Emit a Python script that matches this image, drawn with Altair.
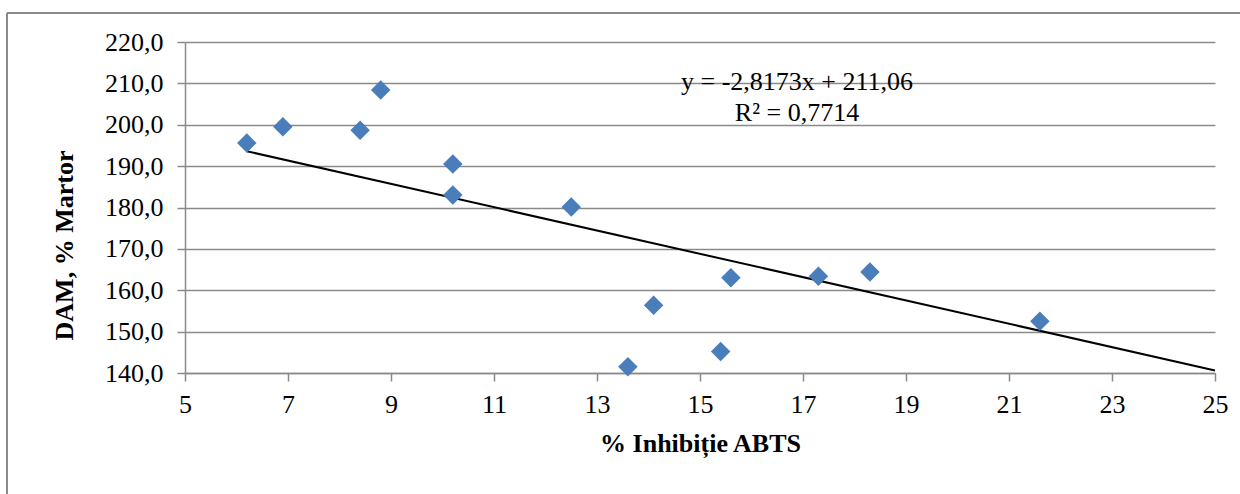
import altair as alt
import pandas as pd

# Data
inhibitie_abts = [6.2, 6.9, 8.4, 8.8, 10.2, 10.2, 12.5, 14.1, 13.6, 15.4, 15.6, 17.3, 18.3, 21.6]
dam_martor = [195.6, 199.5, 198.7, 208.4, 190.5, 183.0, 180.1, 156.4, 141.5, 145.2, 163.0, 163.4, 164.4, 152.5]

slope = -2.8173
intercept = 211.06
trend_end_x = 25
eq_text = "y = -2,8173x + 211,06"
r2_text = "R² = 0,7714"

x_ticks = [5, 7, 9, 11, 13, 15, 17, 19, 21, 23, 25]
y_ticks = [140, 150, 160, 170, 180, 190, 200, 210, 220]

FONT = "'Liberation Serif', 'Times New Roman', Times, serif"
FS = 26
GRID = "#8a8a8a"
BLUE = "#4A7EBB"

W, H = 1030, 331

points_df = pd.DataFrame({"x": inhibitie_abts, "y": dam_martor})
trend_df = pd.DataFrame({"x": [min(inhibitie_abts), trend_end_x]})

xscale = alt.Scale(domain=[5, 25], nice=False, zero=False)
yscale = alt.Scale(domain=[140, 220], nice=False, zero=False)

xaxis = alt.Axis(
    values=x_ticks, title="% Inhibiție ABTS", grid=False,
    tickSize=8, tickColor=GRID, tickWidth=1.5, domainColor=GRID, domainWidth=1.5,
    labelFont=FONT, labelFontSize=FS, labelColor="black", labelPadding=10,
    titleFont=FONT, titleFontSize=FS, titleFontWeight="bold", titleColor="black",
    titleX=W / 2, titleY=70, titleBaseline="middle", titleAlign="center",
    labelFlush=False, labelOverlap=False,
)
yaxis = alt.Axis(
    values=y_ticks, title="DAM, % Martor", grid=True, gridColor=GRID, gridWidth=1.5,
    tickSize=8, tickColor=GRID, tickWidth=1.5, domainColor=GRID, domainWidth=1.5,
    labelFont=FONT, labelFontSize=FS, labelColor="black", labelPadding=14,
    labelExpr="replace(format(datum.value, '.1f'), '.', ',')",
    titleFont=FONT, titleFontSize=FS, titleFontWeight="bold", titleColor="black",
    titleAngle=270, titleX=-121, titleY=203, titleBaseline="middle", titleAlign="center",
    labelFlush=False, labelOverlap=False,
)

pts = alt.Chart(points_df).mark_point(
    shape="diamond", filled=True, size=380, color=BLUE, opacity=1
).encode(
    x=alt.X("x:Q", scale=xscale, axis=xaxis),
    y=alt.Y("y:Q", scale=yscale, axis=yaxis),
)

trend = alt.Chart(trend_df).transform_calculate(
    y=f"{slope} * datum.x + {intercept}"
).mark_line(color="black", strokeWidth=2).encode(
    x=alt.X("x:Q", scale=xscale),
    y=alt.Y("y:Q", scale=yscale),
)

one = pd.DataFrame({"a": [0]})
eq = alt.Chart(one).mark_text(
    font=FONT, fontSize=FS, color="black", align="center", baseline="alphabetic"
).encode(x=alt.value(612), y=alt.value(48), text=alt.value(eq_text))
r2 = alt.Chart(one).mark_text(
    font=FONT, fontSize=FS, color="black", align="center", baseline="alphabetic"
).encode(x=alt.value(612), y=alt.value(79), text=alt.value(r2_text))

frame_top = alt.Chart(one).mark_rule(color=GRID, strokeWidth=2).encode(
    x=alt.value(-178), x2=alt.value(1060), y=alt.value(-29)
)
frame_left = alt.Chart(one).mark_rule(color=GRID, strokeWidth=2).encode(
    x=alt.value(-178), y=alt.value(-29), y2=alt.value(460)
)

chart = alt.layer(frame_top, frame_left, trend, pts, eq, r2).properties(
    width=W, height=H,
    autosize=alt.AutoSizeParams(type="none"),
    padding={"left": 185, "top": 42, "right": 25, "bottom": 121},
    background="white",
).configure_view(stroke=None)

chart.save("out.html", embed_options={"renderer": "svg", "actions": False})
